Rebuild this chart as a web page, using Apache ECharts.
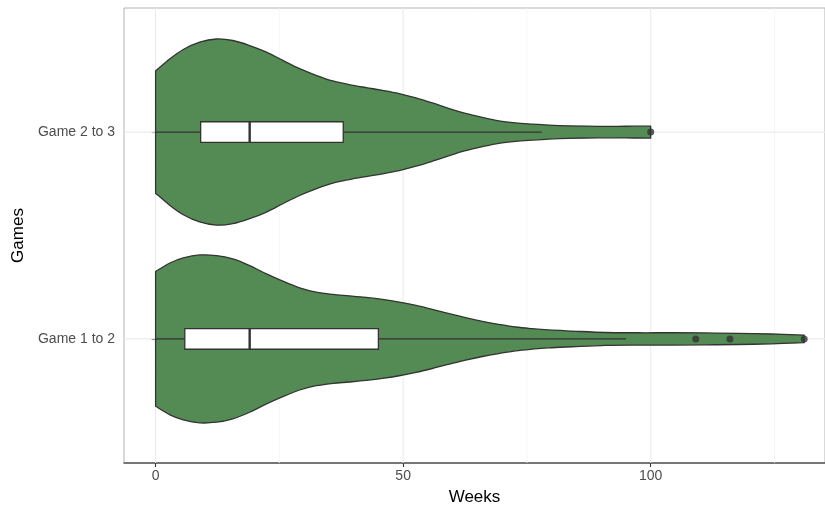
<!DOCTYPE html>
<html>
<head>
<meta charset="utf-8">
<script src="https://cdn.jsdelivr.net/npm/echarts@6/dist/echarts.min.js"></script>
<style>
  html, body { margin: 0; padding: 0; background: #ffffff; }
  #chart { width: 825px; height: 511px; }
</style>
</head>
<body>
<div id="chart"></div>
<script>
// Groups, bottom to top
const categories = ['Game 1 to 2', 'Game 2 to 3'];

// Week axis ticks
const weekTicks = [0, 50, 100];
const weekMinorTicks = [25, 75, 125];

// Kernel density outline (relative density) for each group
const densityWeeks12 = [0, 2.9, 5.6, 8.9, 12.3, 15.6, 19, 22.4, 25.7, 29.1, 32.4, 35.8, 39.1, 42.5, 45.8, 49.2, 52.6, 55.9, 59.3, 62.6, 66, 69.3, 72.7, 76, 79.4, 84.2, 90.8, 97.5, 104.2, 110.9, 117.6, 124.4, 131];
const density12 = [0.724, 0.816, 0.870, 0.902, 0.895, 0.859, 0.788, 0.698, 0.620, 0.549, 0.503, 0.478, 0.463, 0.446, 0.425, 0.396, 0.360, 0.318, 0.271, 0.228, 0.189, 0.157, 0.128, 0.110, 0.096, 0.084, 0.069, 0.066, 0.066, 0.064, 0.060, 0.053, 0.040];
const densityWeeks23 = [0, 2.9, 5.6, 8.9, 12.3, 15.6, 19, 22.4, 25.7, 29.1, 32.4, 35.8, 39.1, 42.5, 45.8, 49.2, 52.6, 55.9, 59.3, 62.6, 66, 69.3, 72.7, 76, 79.4, 83.4, 89.4, 95, 100];
const density23 = [0.656, 0.788, 0.888, 0.966, 1.000, 0.984, 0.930, 0.859, 0.770, 0.681, 0.610, 0.549, 0.510, 0.478, 0.449, 0.414, 0.367, 0.313, 0.253, 0.200, 0.157, 0.121, 0.099, 0.086, 0.075, 0.067, 0.062, 0.063, 0.064];

// Box plot statistics per group (same order as categories)
const lowerWhisker = [0, 0];
const quartile1 = [5.9, 9.1];
const medians = [19, 19];
const quartile3 = [45, 37.9];
const upperWhisker = [95, 78];

// Outlying observations per group
const outliers12 = [109.1, 116, 131];
const outliers23 = [100];

const densityX = [densityWeeks12, densityWeeks23];
const densityY = [density12, density23];
const outlierSets = [outliers12, outliers23];

const VIOLIN_HALF = 0.45;   // half of violin width in category units
const BOX_HALF = 0.05;      // half of box height in category units
const FONT = "'Liberation Sans', Arial, Helvetica, sans-serif";
const FILL = '#548b54';
const INK = '#333333';
const STROKE_W = 1.3;

// Smooth curve through pixel points (Catmull-Rom as cubic Bezier segments)
function curveTo(pts) {
  let d = '';
  for (let i = 0; i < pts.length - 1; i++) {
    const p0 = pts[Math.max(i - 1, 0)];
    const p1 = pts[i];
    const p2 = pts[i + 1];
    const p3 = pts[Math.min(i + 2, pts.length - 1)];
    const c1 = [p1[0] + (p2[0] - p0[0]) / 6, p1[1] + (p2[1] - p0[1]) / 6];
    const c2 = [p2[0] - (p3[0] - p1[0]) / 6, p2[1] - (p3[1] - p1[1]) / 6];
    d += 'C' + c1[0] + ',' + c1[1] + ' ' + c2[0] + ',' + c2[1] + ' ' + p2[0] + ',' + p2[1];
  }
  return d;
}

function renderViolin(params, api) {
  const g = params.dataIndex;
  const xs = densityX[g];
  const ds = densityY[g];
  const c = g + 1;
  const top = xs.map((x, k) => api.coord([x, c + ds[k] * VIOLIN_HALF]));
  const bottom = xs.map((x, k) => api.coord([x, c - ds[k] * VIOLIN_HALF])).reverse();
  const d = 'M' + top[0][0] + ',' + top[0][1] + curveTo(top) +
            'L' + bottom[0][0] + ',' + bottom[0][1] + curveTo(bottom) + 'Z';
  return {
    type: 'path',
    shape: { pathData: d },
    style: { fill: FILL, stroke: INK, lineWidth: STROKE_W, lineJoin: 'round' }
  };
}

function renderBox(params, api) {
  const g = params.dataIndex;
  const c = g + 1;
  const a = api.coord([quartile1[g], c + BOX_HALF]);
  const b = api.coord([quartile3[g], c - BOX_HALF]);
  const wl0 = api.coord([lowerWhisker[g], c]);
  const wl1 = api.coord([quartile1[g], c]);
  const wr0 = api.coord([quartile3[g], c]);
  const wr1 = api.coord([upperWhisker[g], c]);
  const mTop = api.coord([medians[g], c + BOX_HALF]);
  const mBot = api.coord([medians[g], c - BOX_HALF]);
  const lineStyle = { stroke: INK, lineWidth: STROKE_W };
  return {
    type: 'group',
    children: [
      { type: 'line', shape: { x1: wl0[0], y1: wl0[1], x2: wl1[0], y2: wl1[1] }, style: lineStyle },
      { type: 'line', shape: { x1: wr0[0], y1: wr0[1], x2: wr1[0], y2: wr1[1] }, style: lineStyle },
      { type: 'rect', shape: { x: a[0], y: a[1], width: b[0] - a[0], height: b[1] - a[1] },
        style: { fill: '#ffffff', stroke: INK, lineWidth: STROKE_W } },
      { type: 'line', shape: { x1: mTop[0], y1: mTop[1], x2: mBot[0], y2: mBot[1] },
        style: { stroke: INK, lineWidth: 2.4 } }
    ]
  };
}

function renderVGrid(params, api) {
  const cs = params.coordSys;
  const v = api.value(0);
  const major = api.value(1) === 1;
  const p = api.coord([v, 1]);
  return {
    type: 'line',
    shape: { x1: p[0], y1: cs.y, x2: p[0], y2: cs.y + cs.height },
    style: { stroke: major ? '#ebebeb' : '#f4f4f4', lineWidth: major ? 1.1 : 0.8 }
  };
}

function renderHGrid(params, api) {
  const cs = params.coordSys;
  const p = api.coord([0, api.value(0)]);
  return {
    type: 'line',
    shape: { x1: cs.x, y1: p[1], x2: cs.x + cs.width, y2: p[1] },
    style: { stroke: '#ebebeb', lineWidth: 1.1 }
  };
}

const outlierPoints = [];
outlierSets.forEach((set, g) => set.forEach(v => outlierPoints.push([v, g + 1])));

const chart = echarts.init(document.getElementById('chart'), null, { renderer: 'canvas' });
chart.setOption({
  animation: false,
  backgroundColor: '#ffffff',
  textStyle: { fontFamily: FONT },
  grid: {
    left: 124, top: 8, right: -2, bottom: 46,
    show: true, borderColor: '#b3b3b3', borderWidth: 1, backgroundColor: 'transparent'
  },
  xAxis: {
    type: 'value',
    min: -6.38,
    max: 135.2,
    name: 'Weeks',
    nameLocation: 'middle',
    nameGap: 26,
    nameTextStyle: { color: '#000000', fontSize: 17, fontFamily: FONT },
    axisLine: { show: true, lineStyle: { color: '#555555', width: 1.5 } },
    axisTick: { show: true, length: 4, customValues: weekTicks, lineStyle: { color: INK, width: 1.1 } },
    axisLabel: { customValues: weekTicks, color: '#4d4d4d', fontSize: 14, margin: 6, fontFamily: FONT },
    splitLine: { show: false }
  },
  yAxis: {
    type: 'value',
    min: 0.4,
    max: 2.6,
    name: 'Games',
    nameLocation: 'middle',
    nameRotate: 90,
    nameGap: 95,
    nameTextStyle: { color: '#000000', fontSize: 17, fontFamily: FONT },
    axisLine: { show: false },
    axisTick: { show: true, length: 4, customValues: [1, 2], lineStyle: { color: INK, width: 1.1 } },
    axisLabel: {
      customValues: [1, 2],
      formatter: v => categories[Math.round(v) - 1] || '',
      color: '#4d4d4d', fontSize: 14, margin: 9, fontFamily: FONT
    },
    splitLine: { show: false }
  },
  series: [
    {
      type: 'custom', silent: true, z: 1,
      renderItem: renderVGrid,
      data: weekTicks.map(v => [v, 1]).concat(weekMinorTicks.map(v => [v, 0]))
    },
    {
      type: 'custom', silent: true, z: 1,
      renderItem: renderHGrid,
      data: categories.map((_, g) => [g + 1])
    },
    {
      type: 'custom', silent: true, z: 2,
      renderItem: renderViolin,
      data: categories.map((_, g) => [g])
    },
    {
      type: 'custom', silent: true, z: 3,
      renderItem: renderBox,
      data: categories.map((_, g) => [g])
    },
    {
      type: 'scatter', silent: true, z: 4,
      symbol: 'circle', symbolSize: 7,
      itemStyle: { color: INK },
      data: outlierPoints
    }
  ]
});
</script>
</body>
</html>
